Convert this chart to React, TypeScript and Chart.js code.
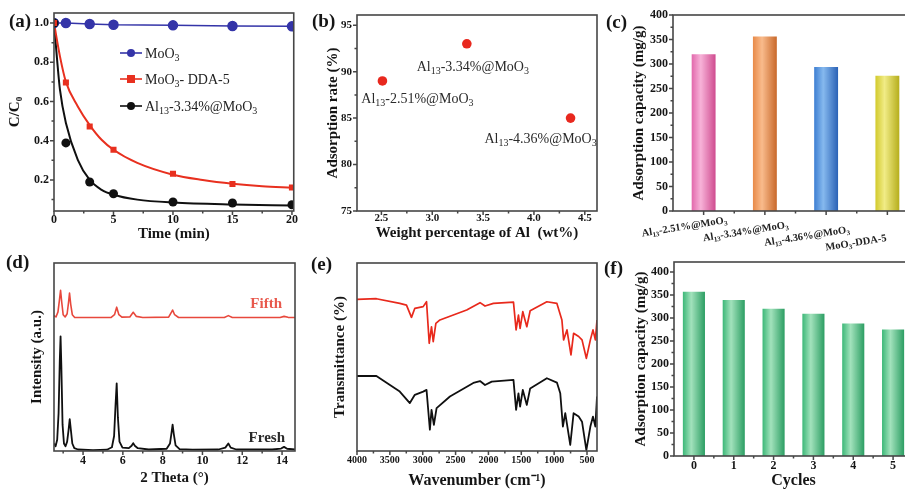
import React, { useEffect, useRef } from 'react';
import { Chart, registerables } from 'chart.js';
Chart.register(...registerables);

// ---------------- data ----------------
// (a) kinetics
const TIME = [0, 1, 3, 5, 10, 15, 20];
const MOO3 = [1.0, 1.0, 0.995, 0.991, 0.988, 0.985, 0.983];
const DDA = [1.0, 0.697, 0.473, 0.354, 0.232, 0.18, 0.162];
const AL13 = [1.0, 0.389, 0.19, 0.13, 0.088, 0.083, 0.074];
const DDA_FIT_T = [0, 0.5, 1, 2, 3, 4, 5, 7, 10, 12.5, 15, 17.5, 20];
const DDA_FIT = [1.0, 0.83, 0.7, 0.575, 0.48, 0.405, 0.354, 0.287, 0.227, 0.2, 0.181, 0.168, 0.16];
const AL_FIT_T = [0, 0.25, 0.5, 1, 2, 3, 4, 5, 7, 10, 15, 20];
const AL_FIT = [1.0, 0.82, 0.66, 0.49, 0.303, 0.2, 0.15, 0.125, 0.1, 0.085, 0.075, 0.07];
const LEGEND_A = ['MoO_{3}', 'MoO_{3}- DDA-5', 'Al_{13}-3.34%@MoO_{3}'];
const A_X_TICKS = [0, 5, 10, 15, 20];
const A_Y_TICKS = [0.2, 0.4, 0.6, 0.8, 1.0];

// (b) adsorption rate
const WT = [2.51, 3.34, 4.36];
const RATE = [89, 93, 85];
const B_LABELS = ['Al_{13}-2.51%@MoO_{3}', 'Al_{13}-3.34%@MoO_{3}', 'Al_{13}-4.36%@MoO_{3}'];
const B_X_TICKS = [2.5, 3.0, 3.5, 4.0, 4.5];
const B_Y_TICKS = [75, 80, 85, 90, 95];

// (c) adsorption capacity
const C_CATS = ['Al_{13}-2.51%@MoO_{3}', 'Al_{13}-3.34%@MoO_{3}', 'Al_{13}-4.36%@MoO_{3}', 'MoO_{3}-DDA-5'];
const C_VALUES = [320, 356, 294, 276];
const CAP_TICKS = [0, 50, 100, 150, 200, 250, 300, 350, 400];

// (d) XRD
const XRD_FRESH_X = [2.54, 2.62, 2.7, 2.77, 2.83, 2.87, 2.91, 2.97, 3.04, 3.12, 3.2, 3.27, 3.33, 3.39, 3.46, 3.56, 3.75, 4.5, 5.2, 5.45, 5.56, 5.63, 5.69, 5.75, 5.83, 5.98, 6.3, 6.44, 6.52, 6.6, 6.75, 7.3, 8.2, 8.37, 8.45, 8.5, 8.56, 8.65, 8.85, 9.5, 10.8, 11.15, 11.3, 11.42, 11.7, 13.5, 13.95, 14.1, 14.25, 14.65];
const XRD_FRESH_Y = [4, 2.5, 6, 20, 48, 61, 45, 14, 4, 2.5, 5, 11, 17, 11, 4, 1.5, 0.8, 0.5, 0.7, 2, 8, 24, 36, 18, 5, 1.8, 1.5, 2.8, 4.2, 2.8, 1.5, 0.8, 1.2, 4, 10, 14, 9, 3, 1, 0.7, 0.8, 1.8, 4, 1.8, 0.8, 0.8, 1.3, 2.2, 1.2, 0.8];
const XRD_FIFTH_X = [2.54, 2.64, 2.74, 2.81, 2.87, 2.93, 3.0, 3.1, 3.2, 3.27, 3.32, 3.38, 3.46, 3.58, 5.4, 5.58, 5.69, 5.8, 5.95, 6.35, 6.52, 6.68, 7.0, 8.3, 8.45, 8.5, 8.6, 8.8, 11.1, 11.3, 11.5, 13.9, 14.1, 14.3, 14.65];
const XRD_FIFTH_Y = [72, 71.3, 74, 80, 85.5, 79, 72.5, 71.3, 73, 79, 84, 78, 72.5, 71, 71, 72.5, 76.5, 72.5, 71.2, 71.3, 73.8, 71.6, 71, 71.2, 74, 75, 72.5, 71, 71, 72, 71, 71, 71.6, 71.1, 71];
const D_X_TICKS = [4, 6, 8, 10, 12, 14];

// (e) FTIR
const IR_FIFTH_X = [4000, 3705, 3349, 3247, 3171, 3120, 2993, 2942, 2901, 2866, 2840, 2800, 2738, 2331, 2128, 2052, 1924, 1619, 1579, 1543, 1518, 1477, 1416, 1365, 1111, 958, 882, 856, 805, 744, 704, 627, 576, 510, 449, 409, 373, 348];
const IR_FIFTH_Y = [80.7, 81.0, 78.5, 77.6, 71.1, 75.9, 76.8, 79.4, 57.3, 66.1, 58.2, 67.9, 69.7, 75.0, 78.9, 77.1, 78.5, 79.2, 64.4, 72.3, 65.2, 74.1, 66.1, 74.6, 79.4, 78.5, 69.7, 59.1, 64.4, 51.1, 62.6, 60.9, 59.1, 49.3, 59.1, 64.4, 59.1, 69.7];
const IR_FRESH_X = [4000, 3705, 3349, 3196, 3120, 2993, 2942, 2891, 2866, 2830, 2789, 2586, 2230, 2128, 2052, 1950, 1619, 1579, 1543, 1518, 1477, 1416, 1365, 1111, 958, 907, 867, 831, 755, 704, 627, 576, 510, 449, 409, 373, 348];
const IR_FRESH_Y = [39.9, 39.9, 31.6, 25.5, 29.9, 31.6, 32.5, 11.3, 21.9, 13.9, 22.8, 29.0, 36.2, 37.2, 35.1, 36.9, 37.8, 21.9, 30.7, 23.6, 32.5, 24.5, 33.3, 38.7, 36.4, 30.7, 13.0, 20.1, 3.2, 20.1, 18.3, 15.6, 0.5, 13.0, 18.3, 13.0, 29.0];
const E_X_TICKS = [4000, 3500, 3000, 2500, 2000, 1500, 1000, 500];

// (f) cycles
const CYCLES = ['0', '1', '2', '3', '4', '5'];
const CYCLE_VALUES = [357, 339, 320, 309, 288, 275];

// ---------------- styles ----------------
const SERIF = '"Liberation Serif", "Times New Roman", Times, serif';
const FRAME = '#464646';
const TXT = '#151515';
const BLUE = '#3434a8';
const RED = '#e8301f';
const BLACK = '#101010';
const C_FILLS = [
  ['#e268ac', '#f7b2d8', '#cf4b8f'],
  ['#e88a48', '#f9bb8c', '#c8682a'],
  ['#3d7ed2', '#86b9ee', '#2a62b6'],
  ['#d2ca2c', '#f1ec86', '#b6ae1c'],
];
const F_FILL = [['#3cb878', '#a2e2bc', '#2c9e63']];

// ---------------- helpers ----------------
type Seg = { t: string; sub: boolean };
function parseRich(s: string): Seg[] {
  const segs: Seg[] = [];
  const re = /_\{([^}]*)\}/g;
  let last = 0;
  let m: RegExpExecArray | null;
  while ((m = re.exec(s))) {
    if (m.index > last) segs.push({ t: s.slice(last, m.index), sub: false });
    segs.push({ t: m[1], sub: true });
    last = re.lastIndex;
  }
  if (last < s.length) segs.push({ t: s.slice(last), sub: false });
  return segs;
}
function drawRich(ctx: CanvasRenderingContext2D, s: string, x: number, y: number, size: number, weight: string, color: string, align: 'left' | 'center' | 'right') {
  const segs = parseRich(s);
  const fN = `${weight} ${size}px ${SERIF}`;
  const fS = `${weight} ${Math.round(size * 0.68)}px ${SERIF}`;
  let w = 0;
  for (const sg of segs) { ctx.font = sg.sub ? fS : fN; w += ctx.measureText(sg.t).width; }
  let cx = align === 'center' ? x - w / 2 : align === 'right' ? x - w : x;
  ctx.textAlign = 'left';
  ctx.textBaseline = 'alphabetic';
  ctx.fillStyle = color;
  for (const sg of segs) {
    ctx.font = sg.sub ? fS : fN;
    ctx.fillText(sg.t, cx, sg.sub ? y + size * 0.22 : y);
    cx += ctx.measureText(sg.t).width;
  }
}
const xy = (xs: number[], ys: number[]) => xs.map((x, i) => ({ x, y: ys[i] }));
const range = (a: number, b: number, st: number) => { const r: number[] = []; for (let v = a; v <= b + 1e-9; v += st) r.push(+v.toFixed(4)); return r; };

type Rect = { x: number; y: number; w: number; h: number };
type Plot = { l: number; t: number; r: number; b: number };
function geom(cv: Rect, pl: Plot) {
  return {
    padding: { left: 0, top: pl.t - cv.y, right: cv.x + cv.w - pl.r, bottom: 0 },
    yW: pl.l - cv.x,
    xH: cv.y + cv.h - pl.b,
  };
}
function common(g: any) {
  return {
    responsive: false,
    maintainAspectRatio: false,
    animation: false,
    devicePixelRatio: 1,
    events: [],
    layout: { padding: g.padding },
    plugins: { legend: { display: false }, tooltip: { enabled: false }, title: { display: false } },
  };
}
function axisBase(size: number, horizontal: boolean) {
  return {
    grid: { display: false, drawTicks: false },
    border: { display: false },
    afterFit: (s: any) => { if (horizontal) s.height = size; else s.width = size; },
  };
}
const fixedTicks = (vals: number[]) => (s: any) => { s.ticks = vals.map((v) => ({ value: v })); };
function ttl(text: string, top: number, bottom: number, size = 15) {
  return { display: true, text, color: TXT, font: { family: SERIF, size, weight: 'bold' }, padding: { top, bottom } };
}
function tk(size: number, pad: number, cb?: (v: any) => string) {
  const o: any = { color: TXT, font: { family: SERIF, size, weight: 'bold' }, padding: pad, maxRotation: 0, minRotation: 0, autoSkip: false };
  if (cb) o.callback = cb;
  return o;
}
function frameTicks(cfg: { xMajor?: number[]; xMinor?: number[]; yMajor?: number[]; yMinor?: number[] }) {
  return {
    id: 'frameTicks',
    afterDatasetsDraw(chart: any) {
      const { ctx, chartArea: a, scales } = chart;
      ctx.save();
      ctx.strokeStyle = FRAME;
      ctx.lineWidth = 1.5;
      ctx.beginPath();
      const mark = (vals: number[], len: number, horiz: boolean) => {
        vals.forEach((v) => {
          if (horiz) {
            const px = scales.x.getPixelForValue(v);
            if (!isFinite(px) || px < a.left - 0.5 || px > a.right + 0.5) return;
            ctx.moveTo(px, a.bottom); ctx.lineTo(px, a.bottom + len);
          } else {
            const py = scales.y.getPixelForValue(v);
            if (!isFinite(py) || py < a.top - 0.5 || py > a.bottom + 0.5) return;
            ctx.moveTo(a.left, py); ctx.lineTo(a.left - len, py);
          }
        });
      };
      mark(cfg.xMajor || [], 4, true);
      mark(cfg.xMinor || [], 2.5, true);
      mark(cfg.yMajor || [], 4, false);
      mark(cfg.yMinor || [], 2.5, false);
      ctx.stroke();
      ctx.lineWidth = 1.6;
      ctx.strokeRect(a.left, a.top, a.right - a.left, a.bottom - a.top);
      ctx.restore();
    },
  };
}
function gradBar(fills: string[][], pct: number) {
  return (c: any) => {
    const chart = c.chart;
    const st = fills[(c.dataIndex || 0) % fills.length];
    const xs = chart.scales && chart.scales.x;
    if (!xs || c.dataIndex === undefined) return st[1];
    const cx = xs.getPixelForValue(c.dataIndex);
    const n = (chart.data.labels || []).length || 1;
    const half = (xs.width / n) * pct / 2;
    if (!isFinite(cx) || !isFinite(half) || half <= 0) return st[1];
    const g = chart.ctx.createLinearGradient(cx - half, 0, cx + half, 0);
    g.addColorStop(0, st[0]);
    g.addColorStop(0.38, st[1]);
    g.addColorStop(1, st[2]);
    return g;
  };
}

// ---------------- geometry ----------------
const CV_A: Rect = { x: 0, y: 0, w: 300, h: 246 };
const PL_A: Plot = { l: 54, t: 13, r: 294, b: 211 };
const CV_B: Rect = { x: 300, y: 0, w: 305, h: 246 };
const PL_B: Plot = { l: 357, t: 15, r: 597, b: 211 };
const CV_C: Rect = { x: 605, y: 0, w: 320, h: 256 };
const PL_C: Plot = { l: 673, t: 15, r: 918, b: 211 };
const CV_D: Rect = { x: 0, y: 246, w: 300, h: 244 };
const PL_D: Plot = { l: 54, t: 263, r: 295, b: 451 };
const CV_E: Rect = { x: 300, y: 246, w: 305, h: 244 };
const PL_E: Plot = { l: 357, t: 263, r: 597, b: 451 };
const CV_F: Rect = { x: 605, y: 246, w: 320, h: 244 };
const PL_F: Plot = { l: 674, t: 262, r: 913, b: 456 };

// ---------------- configs ----------------
function configA() {
  const g = geom(CV_A, PL_A);
  const legend = {
    id: 'legendA',
    afterDraw(chart: any) {
      const ctx = chart.ctx;
      const items = [
        { c: BLUE, s: 'circle' },
        { c: RED, s: 'rect' },
        { c: BLACK, s: 'circle' },
      ];
      const ys = [53, 79, 106];
      ctx.save();
      items.forEach((it, i) => {
        const y = ys[i];
        ctx.strokeStyle = it.c; ctx.fillStyle = it.c; ctx.lineWidth = 1.6;
        ctx.beginPath(); ctx.moveTo(120, y); ctx.lineTo(142, y); ctx.stroke();
        if (it.s === 'rect') ctx.fillRect(127, y - 4, 8, 8);
        else { ctx.beginPath(); ctx.arc(131, y, 4, 0, Math.PI * 2); ctx.fill(); }
        drawRich(ctx, LEGEND_A[i], 145, y + 5, 14, 'normal', '#222', 'left');
      });
      ctx.restore();
    },
  };
  return {
    type: 'scatter',
    data: {
      datasets: [
        { data: xy(TIME, DDA), showLine: false, pointStyle: 'rect', pointRadius: 4.3, backgroundColor: RED, borderColor: RED, borderWidth: 0, order: 1 },
        { data: xy(TIME, AL13), showLine: false, pointStyle: 'circle', pointRadius: 4.5, backgroundColor: BLACK, borderColor: BLACK, borderWidth: 0, order: 2 },
        { data: xy(TIME, MOO3), showLine: true, pointStyle: 'circle', pointRadius: 4.5, backgroundColor: BLUE, borderColor: BLUE, borderWidth: 1.5, order: 3 },
        { data: xy(DDA_FIT_T, DDA_FIT), showLine: true, pointRadius: 0, borderColor: RED, borderWidth: 2, cubicInterpolationMode: 'monotone', order: 4 },
        { data: xy(AL_FIT_T, AL_FIT), showLine: true, pointRadius: 0, borderColor: BLACK, borderWidth: 2, cubicInterpolationMode: 'monotone', order: 5 },
      ],
    },
    options: {
      ...common(g),
      scales: {
        x: { type: 'linear', min: 0, max: 20.15, ...axisBase(g.xH, true), afterBuildTicks: fixedTicks(A_X_TICKS), ticks: tk(12, 2, (v) => String(v)), title: ttl('Time (min)', 0, 3) },
        y: { type: 'linear', min: 0.042, max: 1.051, ...axisBase(g.yW, false), afterBuildTicks: fixedTicks(A_Y_TICKS), ticks: tk(12, 5, (v) => Number(v).toFixed(1)), title: ttl('C/C₀', 6, 0) },
      },
    },
    plugins: [frameTicks({ xMajor: A_X_TICKS, xMinor: [2.5, 7.5, 12.5, 17.5], yMajor: A_Y_TICKS, yMinor: [0.1, 0.3, 0.5, 0.7, 0.9] }), legend],
  };
}

function configB() {
  const g = geom(CV_B, PL_B);
  const offsets = [[35, 17], [6, 22], [-30, 20]];
  const labels = {
    id: 'labelsB',
    afterDraw(chart: any) {
      const ctx = chart.ctx;
      const pts = chart.getDatasetMeta(0).data;
      ctx.save();
      pts.forEach((p: any, i: number) => {
        drawRich(ctx, B_LABELS[i], p.x + offsets[i][0], p.y + offsets[i][1] + 5, 14, 'normal', '#2a2a2a', 'center');
      });
      ctx.restore();
    },
  };
  return {
    type: 'scatter',
    data: { datasets: [{ data: xy(WT, RATE), pointRadius: 4.8, backgroundColor: '#e8281e', borderColor: '#e8281e', borderWidth: 0 }] },
    options: {
      ...common(g),
      scales: {
        x: { type: 'linear', min: 2.26, max: 4.62, ...axisBase(g.xH, true), afterBuildTicks: fixedTicks(B_X_TICKS), ticks: tk(11, 1, (v) => Number(v).toFixed(1)), title: ttl('Weight percentage of Al  (wt%)', 0, 4) },
        y: { type: 'linear', min: 75, max: 96.1, ...axisBase(g.yW, false), afterBuildTicks: fixedTicks(B_Y_TICKS), ticks: tk(11, 5, (v) => String(v)), title: ttl('Adsorption rate (%)', 24, 0) },
      },
    },
    plugins: [frameTicks({ xMajor: B_X_TICKS, xMinor: [2.75, 3.25, 3.75, 4.25], yMajor: B_Y_TICKS, yMinor: [77.5, 82.5, 87.5, 92.5] }), labels],
  };
}

function configC() {
  const g = geom(CV_C, PL_C);
  const catLabels = {
    id: 'catLabelsC',
    afterDraw(chart: any) {
      const ctx = chart.ctx;
      const xs = chart.scales.x;
      const a = chart.chartArea;
      ctx.save();
      (chart.data.labels as string[]).forEach((lab, i) => {
        const px = xs.getPixelForValue(i);
        ctx.save();
        ctx.translate(px - 62, a.bottom + 22 + i * 4.7);
        ctx.rotate((-9 * Math.PI) / 180);
        drawRich(ctx, lab, 0, 3.5, 10.5, 'bold', '#222', 'left');
        ctx.restore();
      });
      ctx.restore();
    },
  };
  return {
    type: 'bar',
    data: { labels: C_CATS, datasets: [{ data: C_VALUES, backgroundColor: gradBar(C_FILLS, 0.39), barPercentage: 0.39, categoryPercentage: 1, borderWidth: 0 }] },
    options: {
      ...common(g),
      scales: {
        x: { type: 'category', offset: true, ...axisBase(g.xH, true), ticks: { display: false } },
        y: { type: 'linear', min: 0, max: 400, ...axisBase(g.yW, false), afterBuildTicks: fixedTicks(CAP_TICKS), ticks: tk(12, 5, (v) => String(v)), title: ttl('Adsorption capacity (mg/g)', 25, 0) },
      },
    },
    plugins: [frameTicks({ xMajor: [0, 1, 2, 3], xMinor: [0.5, 1.5, 2.5], yMajor: CAP_TICKS, yMinor: range(25, 375, 50) }), catLabels],
  };
}

function configD() {
  const g = geom(CV_D, PL_D);
  const texts = {
    id: 'textsD',
    afterDraw(chart: any) {
      const ctx = chart.ctx;
      const a = chart.chartArea;
      ctx.save();
      drawRich(ctx, 'Fifth', a.right - 13, a.top + 45, 15, 'bold', '#e8584c', 'right');
      drawRich(ctx, 'Fresh', a.right - 10, a.top + 179, 15, 'bold', '#2a2a2a', 'right');
      ctx.restore();
    },
  };
  return {
    type: 'scatter',
    data: {
      datasets: [
        { data: xy(XRD_FIFTH_X, XRD_FIFTH_Y), showLine: true, pointRadius: 0, borderColor: '#e8483c', borderWidth: 1.6, borderJoinStyle: 'round' },
        { data: xy(XRD_FRESH_X, XRD_FRESH_Y), showLine: true, pointRadius: 0, borderColor: BLACK, borderWidth: 1.8, borderJoinStyle: 'round' },
      ],
    },
    options: {
      ...common(g),
      scales: {
        x: { type: 'linear', min: 2.54, max: 14.65, ...axisBase(g.xH, true), afterBuildTicks: fixedTicks(D_X_TICKS), ticks: tk(12, 3, (v) => String(v)), title: ttl('2 Theta (°)', 0, 3) },
        y: { type: 'linear', min: 0, max: 100, ...axisBase(g.yW, false), ticks: { display: false }, title: ttl('Intensity (a.u.)', 28, 0) },
      },
    },
    plugins: [frameTicks({ xMajor: D_X_TICKS, xMinor: [3, 5, 7, 9, 11, 13] }), texts],
  };
}

function configE() {
  const g = geom(CV_E, PL_E);
  const texts = {
    id: 'textsE',
    afterDraw(chart: any) {
      const ctx = chart.ctx;
      const a = chart.chartArea;
      ctx.save();
      drawRich(ctx, 'Fifth', a.left + 3, a.top + 28, 15, 'bold', '#e8301f', 'left');
      drawRich(ctx, 'Fresh', a.left + 3, a.top + 105, 15, 'bold', '#2a2a2a', 'left');
      ctx.restore();
    },
  };
  return {
    type: 'scatter',
    data: {
      datasets: [
        { data: xy(IR_FIFTH_X, IR_FIFTH_Y), showLine: true, pointRadius: 0, borderColor: '#e8291c', borderWidth: 1.7, borderJoinStyle: 'round' },
        { data: xy(IR_FRESH_X, IR_FRESH_Y), showLine: true, pointRadius: 0, borderColor: BLACK, borderWidth: 1.8, borderJoinStyle: 'round' },
      ],
    },
    options: {
      ...common(g),
      scales: {
        x: { type: 'linear', reverse: true, min: 348, max: 4000, ...axisBase(g.xH, true), afterBuildTicks: fixedTicks(E_X_TICKS), ticks: tk(10, 3, (v) => String(v)), title: ttl('Wavenumber (cm⁻¹)', 0, 0, 16) },
        y: { type: 'linear', min: 0, max: 100, ...axisBase(g.yW, false), ticks: { display: false }, title: ttl('Transmittance (%)', 31, 0) },
      },
    },
    plugins: [frameTicks({ xMajor: E_X_TICKS, xMinor: [3750, 3250, 2750, 2250, 1750, 1250, 750] })],
  };
}

function configF() {
  const g = geom(CV_F, PL_F);
  return {
    type: 'bar',
    data: { labels: CYCLES, datasets: [{ data: CYCLE_VALUES, backgroundColor: gradBar(F_FILL, 0.555), barPercentage: 0.555, categoryPercentage: 1, borderWidth: 0 }] },
    options: {
      ...common(g),
      scales: {
        x: { type: 'category', offset: true, ...axisBase(g.xH, true), ticks: tk(12, 3), title: ttl('Cycles', 0, 0, 16) },
        y: { type: 'linear', min: 0, max: 421.7, ...axisBase(g.yW, false), afterBuildTicks: fixedTicks(CAP_TICKS), ticks: tk(12, 5, (v) => String(v)), title: ttl('Adsorption capacity (mg/g)', 27, 0) },
      },
    },
    plugins: [frameTicks({ xMajor: [0, 1, 2, 3, 4, 5], xMinor: [0.5, 1.5, 2.5, 3.5, 4.5], yMajor: CAP_TICKS, yMinor: range(25, 375, 50) })],
  };
}

// ---------------- components ----------------
function ChartBox({ cv, make }: { cv: Rect; make: () => any }) {
  const ref = useRef<HTMLCanvasElement>(null);
  useEffect(() => {
    const chart = new Chart(ref.current as HTMLCanvasElement, make());
    return () => chart.destroy();
  }, []);
  return (
    <canvas
      ref={ref}
      width={cv.w}
      height={cv.h}
      style={{ position: 'absolute', left: cv.x, top: cv.y, width: cv.w, height: cv.h }}
    />
  );
}

const PANEL_LETTERS = [
  { t: '(a)', x: 9, y: 11 },
  { t: '(b)', x: 312, y: 11 },
  { t: '(c)', x: 606, y: 12 },
  { t: '(d)', x: 6, y: 252 },
  { t: '(e)', x: 311, y: 254 },
  { t: '(f)', x: 604, y: 258 },
];

export default function App() {
  return (
    <div style={{ position: 'fixed', left: 0, top: 0, width: 905, height: 490, overflow: 'hidden', background: '#fff' }}>
      <ChartBox cv={CV_A} make={configA} />
      <ChartBox cv={CV_B} make={configB} />
      <ChartBox cv={CV_C} make={configC} />
      <ChartBox cv={CV_D} make={configD} />
      <ChartBox cv={CV_E} make={configE} />
      <ChartBox cv={CV_F} make={configF} />
      {PANEL_LETTERS.map((p) => (
        <div
          key={p.t}
          style={{ position: 'absolute', left: p.x, top: p.y, font: `bold 19px ${SERIF}`, lineHeight: '19px', color: TXT }}
        >
          {p.t}
        </div>
      ))}
    </div>
  );
}
